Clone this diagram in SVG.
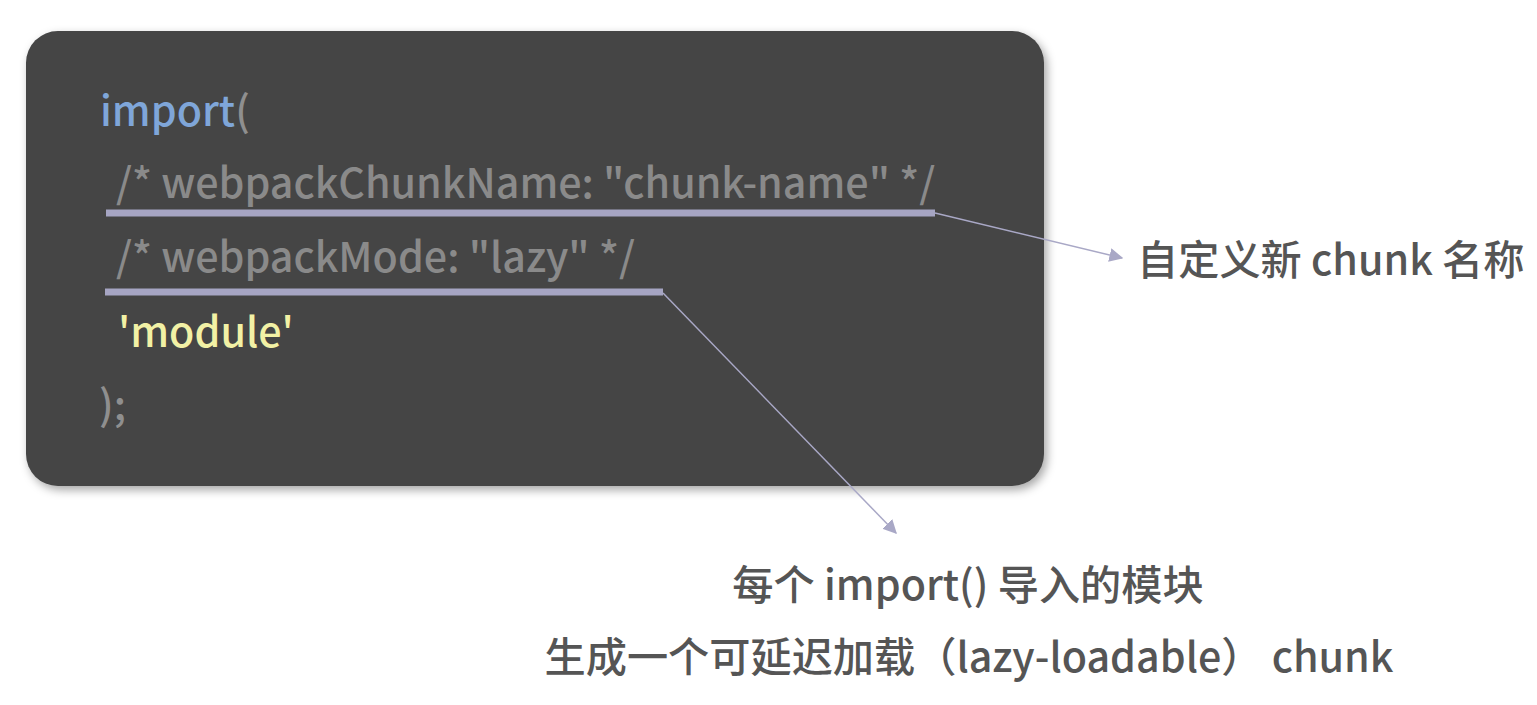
<svg xmlns="http://www.w3.org/2000/svg" width="1537" height="705" viewBox="0 0 1537 705">
<defs>
<filter id="sh" x="-5%" y="-5%" width="110%" height="115%">
<feDropShadow dx="3" dy="4" stdDeviation="5" flood-color="#000" flood-opacity="0.35"/>
</filter>
<marker id="arr" viewBox="0 0 10 10" refX="9" refY="5" markerWidth="14" markerHeight="14" markerUnits="userSpaceOnUse" orient="auto">
<path d="M0,0 L10,5 L0,10 z" fill="#a9a8c6"/>
</marker>
<style>
text{font-family:"Noto Sans CJK SC","Noto Sans",sans-serif;font-weight:500}
.code{font-size:41.2px}
.kw{fill:#7fa6d9}
.cm{fill:#8a8a8a}
.str{fill:#f2f1a5}
.pn{fill:#8f8f8f}
.ul{stroke:#a6a5c3;stroke-width:7}
.conn{stroke:#a9a8c6;stroke-width:1.5;fill:none}
.lbl{fill:#555555;font-size:41.2px}
</style>
</defs>
<rect x="0" y="0" width="1537" height="705" fill="#ffffff"/>
<g id="code-box">
<rect x="26" y="31" width="1018" height="455" rx="32" fill="#444444" filter="url(#sh)"/>
<text class="code" x="100" y="126"><tspan class="kw">import</tspan><tspan class="pn">(</tspan></text>
<text class="code cm" x="116" y="198">/* webpackChunkName: "chunk-name" */</text>
<line class="ul" x1="106" y1="213" x2="935" y2="213"/>
<text class="code cm" x="116" y="272">/* webpackMode: "lazy" */</text>
<line class="ul" x1="105" y1="292" x2="663" y2="292"/>
<text class="code str" x="118" y="347">'module'</text>
<text class="code pn" x="99" y="420">);</text>
</g>
<g id="connectors">
<line class="conn" x1="935" y1="213" x2="1122" y2="258" marker-end="url(#arr)"/>
<line class="conn" x1="663" y1="293" x2="896" y2="533" marker-end="url(#arr)"/>
</g>
<g id="label-chunk-name">
<text class="lbl" x="1137" y="275">自定义新 chunk 名称</text>
</g>
<g id="label-lazy">
<text class="lbl" x="968" y="600" text-anchor="middle">每个 import() 导入的模块</text>
<text class="lbl" x="969" y="672" text-anchor="middle">生成一个可延迟加载（lazy-loadable） chunk</text>
</g>
</svg>
